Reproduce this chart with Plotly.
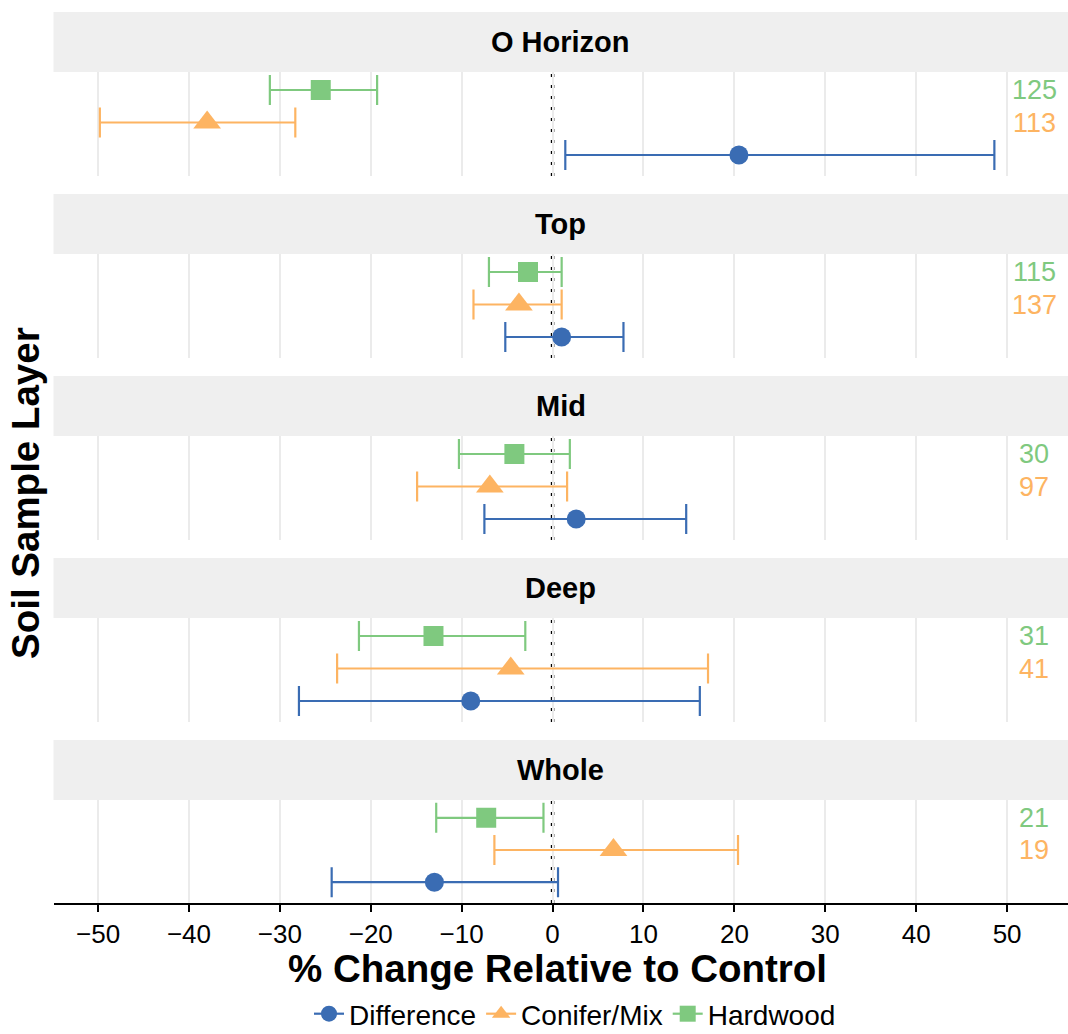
import plotly.graph_objects as go

layers = ["O Horizon", "Top", "Mid", "Deep", "Whole"]
groups = ["Difference", "Conifer/Mix", "Hardwood"]

diff_est = [20.5, 1.0, 2.6, -9.0, -13.0]
diff_lo = [1.4, -5.2, -7.5, -27.9, -24.3]
diff_hi = [48.6, 7.8, 14.7, 16.2, 0.6]

con_est = [-38.0, -3.7, -6.9, -4.6, 6.7]
con_lo = [-49.8, -8.7, -14.9, -23.7, -6.4]
con_hi = [-28.3, 1.0, 1.6, 17.1, 20.4]

hard_est = [-25.5, -2.7, -4.2, -13.1, -7.3]
hard_lo = [-31.1, -7.0, -10.3, -21.3, -12.8]
hard_hi = [-19.3, 1.0, 1.9, -3.0, -1.0]

hard_n = [125, 115, 30, 31, 21]
con_n = [113, 137, 97, 41, 19]

x_ticks = [-50, -40, -30, -20, -10, 0, 10, 20, 30, 40, 50]

colors = {"Difference": "#3a6cb3", "Conifer/Mix": "#fdb462", "Hardwood": "#7fc97f"}
symbols = {"Difference": "circle", "Conifer/Mix": "triangle-up", "Hardwood": "square"}
msize = {"Difference": 19, "Conifer/Mix": 24, "Hardwood": 20}
rows = {"Difference": 1, "Conifer/Mix": 2, "Hardwood": 3}
series = {
    "Difference": (diff_est, diff_lo, diff_hi),
    "Conifer/Mix": (con_est, con_lo, con_hi),
    "Hardwood": (hard_est, hard_lo, hard_hi),
}

W, H = 1068, 1034
strip_px = [12, 194, 376, 558, 740]
panel_px = [(72, 176), (254, 358), (436, 540), (618, 722), (800, 903)]
x_left = 53.5 / W
xrange_ = [-54.9, 56.7]
yrange_ = [0.354, 3.554]

FONT = "Liberation Sans, Arial, Helvetica, sans-serif"

fig = go.Figure()
layout = dict(
    width=W, height=H,
    margin=dict(l=0, r=0, t=0, b=0, autoexpand=False),
    paper_bgcolor="white", plot_bgcolor="white",
    font=dict(family=FONT, color="black"),
    showlegend=True,
)
shapes = []
annotations = []

for i, layer in enumerate(layers):
    n = "" if i == 0 else str(i + 1)
    xa, ya = "x" + n, "y" + n
    top, bot = panel_px[i]
    is_last = i == len(layers) - 1
    layout["xaxis" + n] = dict(
        domain=[x_left, 1.0], range=xrange_, anchor=ya,
        tickvals=x_ticks, showgrid=True, gridcolor="#ebebeb", gridwidth=2,
        zeroline=False, showticklabels=is_last,
        showline=is_last, linecolor="black", linewidth=2,
        ticks="outside" if is_last else "", ticklen=7, tickwidth=2, tickcolor="black",
        tickfont=dict(size=26, family=FONT, color="black"),
        matches=None if i == 0 else "x",
    )
    layout["yaxis" + n] = dict(
        domain=[1 - bot / H, 1 - top / H], range=yrange_, anchor=xa,
        showgrid=False, zeroline=False, showticklabels=False, showline=False,
    )
    for g in groups:
        est, lo, hi = series[g]
        fig.add_trace(go.Scatter(
            x=[est[i]], y=[rows[g]], xaxis=xa, yaxis=ya,
            mode="lines+markers", name=g, legendgroup=g, showlegend=(i == 0),
            line=dict(color=colors[g], width=2.2),
            marker=dict(symbol=symbols[g], size=msize[g], color=colors[g], line=dict(width=0)),
            error_x=dict(type="data", symmetric=False,
                         array=[hi[i] - est[i]], arrayminus=[est[i] - lo[i]],
                         color=colors[g], thickness=2.2, width=15),
            hoverinfo="skip",
        ))
    # hide the grey grid line under zero, then the dotted zero line
    shapes.append(dict(type="line", xref=xa, yref=ya + " domain", x0=0, x1=0, y0=0, y1=1,
                       line=dict(color="white", width=3), layer="below"))
    shapes.append(dict(type="line", xref=xa, yref=ya + " domain", x0=0, x1=0, y0=0, y1=1,
                       line=dict(color="black", width=3.5, dash="3px,8px"), layer="below"))
    # strip
    shapes.append(dict(type="rect", xref="paper", yref="paper", x0=x_left, x1=1.0,
                       y0=1 - (strip_px[i] + 60) / H, y1=1 - strip_px[i] / H,
                       fillcolor="#efefef", line=dict(width=0), layer="below"))
    annotations.append(dict(text="<b>%s</b>" % layer, xref="paper", yref="paper",
                            x=(x_left + 1.0) / 2, y=1 - (strip_px[i] + 30) / H,
                            showarrow=False, font=dict(size=29, family=FONT, color="black"),
                            xanchor="center", yanchor="middle"))
    # n labels
    annotations.append(dict(text=str(hard_n[i]), xref=xa, yref=ya, x=53.0, y=3,
                            showarrow=False, font=dict(size=27, family=FONT, color=colors["Hardwood"]),
                            xanchor="center", yanchor="middle"))
    annotations.append(dict(text=str(con_n[i]), xref=xa, yref=ya, x=53.0, y=2,
                            showarrow=False, font=dict(size=27, family=FONT, color=colors["Conifer/Mix"]),
                            xanchor="center", yanchor="middle"))

annotations.append(dict(text="<b>% Change Relative to Control</b>", xref="paper", yref="paper",
                        x=557 / W, y=1 - 968 / H, showarrow=False,
                        font=dict(size=38.5, family=FONT, color="black"),
                        xanchor="center", yanchor="middle"))
annotations.append(dict(text="<b>Soil Sample Layer</b>", xref="paper", yref="paper",
                        x=26 / W, y=1 - 493 / H, showarrow=False, textangle=-90,
                        font=dict(size=38.5, family=FONT, color="black"),
                        xanchor="center", yanchor="middle"))

layout["shapes"] = shapes
layout["annotations"] = annotations
layout["legend"] = dict(orientation="h", x=575 / W, xanchor="center",
                        y=1 - 1014 / H, yanchor="middle",
                        font=dict(size=28, family=FONT, color="black"),
                        bgcolor="rgba(0,0,0,0)", itemwidth=30, tracegroupgap=0)
fig.update_layout(**layout)
fig.write_html("out.html", config={"displayModeBar": False},
               post_script="document.body.style.margin='0';document.body.style.overflow='hidden';")
